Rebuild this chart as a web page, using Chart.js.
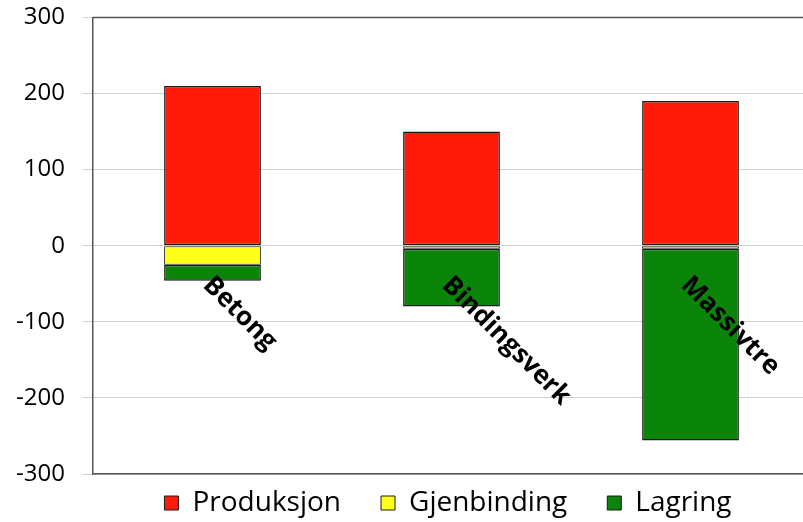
<!DOCTYPE html>
<html>
<head>
<meta charset="utf-8">
<script src="https://cdn.jsdelivr.net/npm/chart.js@4.4.0/dist/chart.umd.min.js"></script>
<style>
  html, body { margin: 0; padding: 0; background: #fff; overflow: hidden; }
  #wrap { position: absolute; left: 0; top: -15px; width: 896px; height: 542px; }
</style>
</head>
<body>
<div id="wrap"><canvas id="chart"></canvas></div>
<script>
// data
const categories = ['Betong', 'Bindingsverk', 'Massivtre'];
const produksjon = [210, 150, 190];
const gjenbinding = [-25, -4, -4];
const lagring = [-21, -76, -252];
const yTicks = [-300, -200, -100, 0, 100, 200, 300];

const axisColor = '#555555';
const gridColor = '#cfcfcf';
const legendLift = 33; // legend padding is wide sideways, pull it closer to the plot

// draws the top frame line and the slanted category labels at the zero line
const framePlugin = {
    id: 'frame',
    beforeUpdate(chart) {
        const lg = chart.legend;
        if (!lg || lg._lifted) return;
        lg._lifted = true;
        const fit = lg.fit.bind(lg);
        lg.fit = function () { fit(); this.height -= legendLift; };
        const draw = lg.draw.bind(lg);
        lg.draw = function () {
            this.top -= legendLift;
            draw();
            this.top += legendLift;
        };
    },
    afterDatasetsDraw(chart) {
        const ctx = chart.ctx;
        const area = chart.chartArea;
        const x = chart.scales.x;
        const y = chart.scales.y;
        ctx.save();
        ctx.strokeStyle = axisColor;
        ctx.lineWidth = 1.5;
        ctx.beginPath();
        ctx.moveTo(area.left, area.top);
        ctx.lineTo(area.right, area.top);
        ctx.stroke();

        ctx.fillStyle = '#000';
        ctx.font = 'bold 26px "Open Sans"';
        ctx.textAlign = 'left';
        ctx.textBaseline = 'top';
        const y0 = y.getPixelForValue(0);
        categories.forEach((label, i) => {
            const cx = x.getPixelForValue(i);
            ctx.save();
            ctx.translate(cx + 4, y0 + 26);
            ctx.rotate(Math.PI / 4);
            ctx.fillText(label, 0, 0);
            ctx.restore();
        });
        ctx.restore();
    }
};

const ctx = document.getElementById('chart').getContext('2d');
const chart = new Chart(ctx, {
    type: 'bar',
    data: {
        labels: categories,
        datasets: [
            { label: 'Produksjon', data: produksjon, backgroundColor: '#FF1A0A', borderWidth: 1.5 },
            { label: 'Gjenbinding', data: gjenbinding, backgroundColor: '#FFFF1A', borderWidth: 1 },
            { label: 'Lagring', data: lagring, backgroundColor: '#0A850A', borderWidth: 1.5 }
        ].map(d => Object.assign(d, {
            borderColor: '#1a1a1a',
            borderSkipped: false,
            categoryPercentage: 1,
            barPercentage: 0.405
        }))
    },
    options: {
        responsive: true,
        maintainAspectRatio: false,
        animation: false,
        layout: { padding: { top: 2, left: 0, right: 0, bottom: 0 } },
        plugins: {
            tooltip: { enabled: false },
            legend: {
                position: 'bottom',
                labels: {
                    color: '#000',
                    font: { family: '"Open Sans"', size: 28 },
                    boxWidth: 14,
                    boxHeight: 14,
                    padding: 40,
                    generateLabels(chart) {
                        return chart.data.datasets.map((d, i) => ({
                            text: d.label,
                            fillStyle: d.backgroundColor,
                            strokeStyle: '#1a1a1a',
                            lineWidth: 1,
                            datasetIndex: i
                        }));
                    }
                }
            }
        },
        scales: {
            x: {
                stacked: true,
                grid: { display: false },
                border: { display: true, color: axisColor, width: 1.5 },
                ticks: { display: false }
            },
            y: {
                stacked: true,
                min: -300,
                max: 300,
                afterFit(scale) { scale.width = 93; },
                afterBuildTicks(scale) { scale.ticks = yTicks.map(v => ({ value: v })); },
                grid: { color: gridColor, tickLength: 10, lineWidth: 1 },
                border: { display: true, color: axisColor, width: 1.5 },
                ticks: {
                    color: '#000',
                    padding: 18,
                    font: { family: '"Open Sans"', size: 24 }
                }
            },
            // empty right-hand space so the plot runs off the page edge like the original
            spare: {
                position: 'right',
                display: true,
                afterFit(scale) { scale.width = 86; },
                grid: { display: false },
                border: { display: false },
                ticks: { display: false }
            }
        }
    },
    plugins: [framePlugin]
});
</script>
</body>
</html>
